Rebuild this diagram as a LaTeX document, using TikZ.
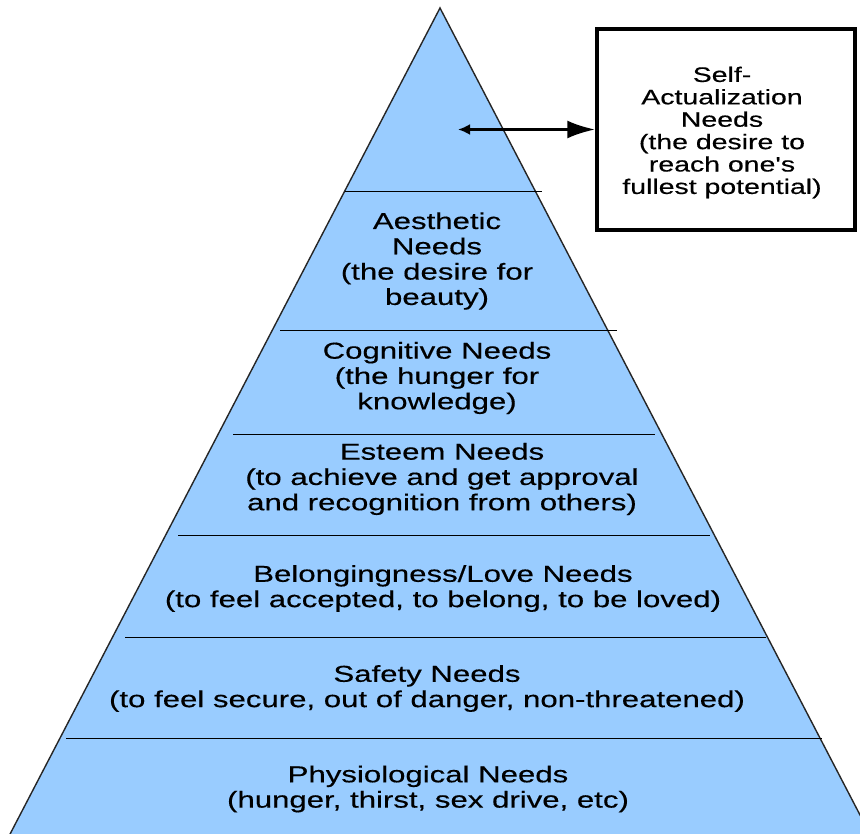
\documentclass[tikz,border=0pt]{standalone}
\usepackage{fontspec}
\usetikzlibrary{arrows.meta}
\newfontfamily\pyrfont[FakeStretch=1.355,FakeBold=0.4]{Liberation Sans}
\definecolor{pyrblue}{RGB}{153,204,255}
\tikzset{
  lvl/.style={align=center, font=\pyrfont\fontsize{23}{25.3}\selectfont, inner sep=0pt},
  sep/.style={draw=black, line width=0.9pt},
  sabox/.style={draw=black, line width=3.5pt, minimum width=258pt, minimum height=201pt, align=center, inner sep=0pt},
}
\begin{document}
\begin{tikzpicture}[x=1pt,y=-1pt]
\useasboundingbox (0,0) rectangle (860,834);
\begin{scope}
\clip (0,0) rectangle (860,834);
\draw[fill=pyrblue, draw=black!85, line width=1.4pt, line join=miter] (440,8) -- (8,838) -- (872,838) -- cycle;
\end{scope}
% separators
\draw[sep] (345,191) coordinate (s1l) -- (542,191) coordinate (s1r);
\draw[sep] (280,330) coordinate (s2l) -- (617,330) coordinate (s2r);
\draw[sep] (233,434) coordinate (s3l) -- (655,434) coordinate (s3r);
\draw[sep] (178,535) coordinate (s4l) -- (710,535) coordinate (s4r);
\draw[sep] (125,637) coordinate (s5l) -- (766,637) coordinate (s5r);
\draw[sep] (66,738) coordinate (s6l) -- (822,738) coordinate (s6r);
% level texts
\node[lvl] (aes) at (437,261) {Aesthetic\\Needs\\(the desire for\\beauty)};
\node[lvl] (cog) at (437,378) {Cognitive Needs\\(the hunger for\\knowledge)};
\node[lvl] (est) at (442,479) {Esteem Needs\\(to achieve and get approval\\and recognition from others)};
\node[lvl] (bel) at (443,588.5) {Belongingness/Love Needs\\(to feel accepted, to belong, to be loved)};
\node[lvl] (saf) at (427,688.5) {Safety Needs\\(to feel secure, out of danger, non-threatened)};
\node[lvl] (phy) at (428,789) {Physiological Needs\\(hunger, thirst, sex drive, etc)};
% self-actualization box
\node[sabox] (sa) at (726,129.5) {};
\node[lvl, font=\pyrfont\fontsize{21}{22.4}\selectfont] (satext) at (722,132.5) {Self-\\Actualization\\Needs\\(the desire to\\reach one's\\fullest potential)};
\coordinate (tip) at (458,129.5);
\draw[line width=3pt, {Latex[length=12pt,width=11pt]}-{Latex[length=28pt,width=18pt]}] (tip) -- (sa.west);
\end{tikzpicture}
\end{document}
